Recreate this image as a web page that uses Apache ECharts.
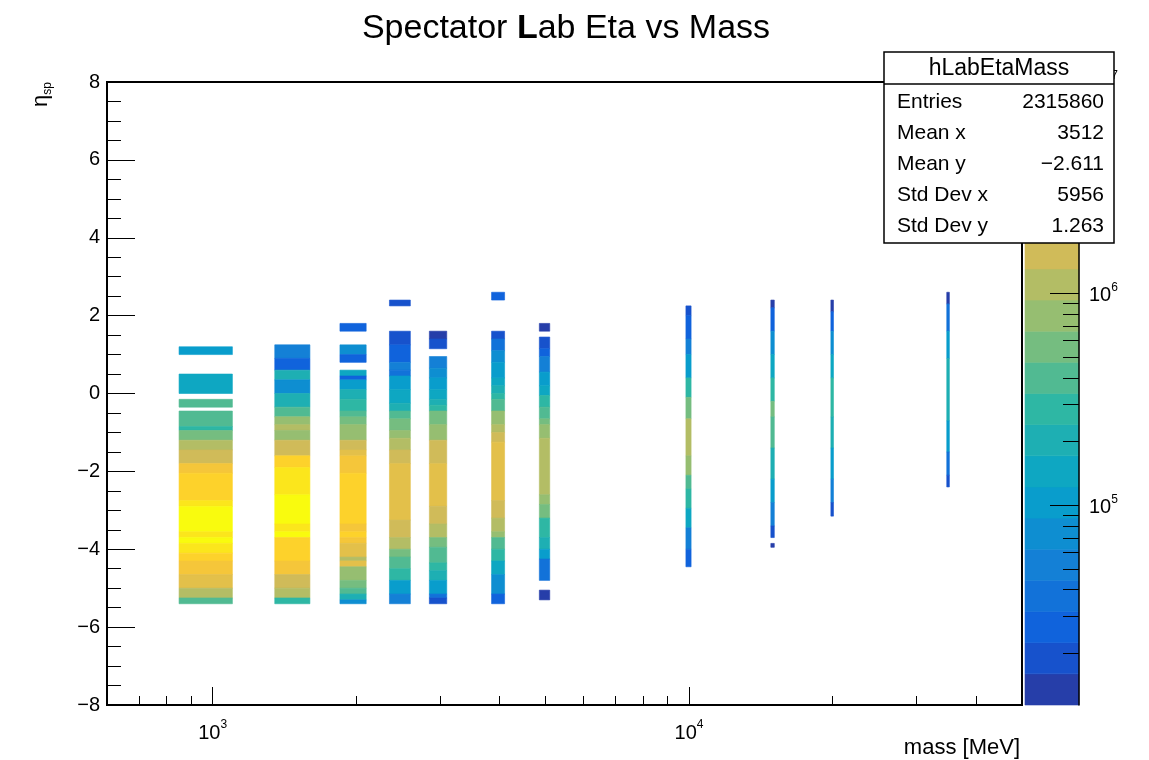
<!DOCTYPE html>
<html><head><meta charset="utf-8">
<script src="https://cdn.jsdelivr.net/npm/echarts@6/dist/echarts.min.js"></script>
<style>html,body{margin:0;padding:0;background:#fff}#c{width:1149px;height:760px}</style>
</head><body><div id="c"></div>
<script>
// ---- data ----
const massLow = [850, 1350, 1850, 2350, 2850, 3850, 4850, 9850, 14850, 19850, 34850];
const massBinWidth = 250;

const eta1000 = [1.2, 1.0, 0.5, 0.0, -0.15, -0.35, -0.45, -0.85, -0.95, -1.2, -1.45, -1.8, -2.05, -2.75, -2.9, -3.55, -3.7, -3.85, -4.1, -4.3, -4.65, -5.0, -5.25, -5.4];
const cnt1000 = [1.04e5, null, 1.45e5, null, 4.0e5, null, 4.0e5, 2.85e5, 5.6e5, 1.1e6, 1.55e6, 3.05e6, 4.3e6, 6.0e6, 8.4e6, 6.0e6, 8.4e6, 6.0e6, 4.3e6, 3.05e6, 2.2e6, 1.1e6, 4.0e5];

const eta1500 = [1.25, 0.9, 0.6, 0.35, 0.0, -0.35, -0.6, -0.8, -0.95, -1.2, -1.6, -1.9, -2.6, -3.35, -3.55, -3.7, -4.3, -4.65, -5.0, -5.25, -5.4];
const cnt1500 = [5.3e4, 2.7e4, 2.05e5, 7.4e4, 2.05e5, 4.0e5, 7.9e5, 1.1e6, 7.9e5, 1.55e6, 4.3e6, 6.0e6, 8.4e6, 6.0e6, 8.4e6, 4.3e6, 3.05e6, 1.55e6, 1.1e6, 2.85e5];

const eta2000 = [1.8, 1.6, 1.25, 1.0, 0.8, 0.6, 0.45, 0.35, 0.1, -0.15, -0.45, -0.6, -0.8, -1.2, -1.45, -1.6, -2.05, -3.35, -3.55, -3.7, -3.85, -4.2, -4.3, -4.45, -4.8, -5.0, -5.15, -5.3, -5.4];
const cnt2000 = [2.7e4, null, 7.4e4, 2.7e4, null, 1.45e5, 2.7e4, 1.04e5, 2.05e5, 2.85e5, 4.0e5, 5.6e5, 7.9e5, 1.55e6, 2.2e6, 3.05e6, 4.3e6, 3.05e6, 4.3e6, 3.05e6, 2.2e6, 1.1e6, 2.2e6, 7.9e5, 5.6e5, 4.0e5, 2.05e5, 7.4e4];

const eta2500 = [2.4, 2.25, 1.6, 1.25, 0.8, 0.6, 0.45, 0.1, -0.25, -0.45, -0.65, -0.95, -1.15, -1.45, -1.8, -3.25, -3.7, -4.0, -4.2, -4.5, -4.8, -5.15, -5.4];
const cnt2500 = [1.9e4, null, 1.9e4, 2.7e4, 5.3e4, 3.8e4, 1.04e5, 1.45e5, 2.05e5, 4.0e5, 5.6e5, 7.9e5, 1.1e6, 1.55e6, 2.2e6, 1.55e6, 1.1e6, 5.6e5, 4.0e5, 2.85e5, 1.04e5, 5.3e4];

const eta3000 = [1.6, 1.4, 1.15, 0.95, 0.65, 0.4, 0.1, -0.15, -0.3, -0.45, -0.8, -1.2, -1.8, -2.9, -3.35, -3.7, -3.95, -4.35, -4.55, -4.8, -5.15, -5.25, -5.4];
const cnt3000 = [1.35e4, 1.9e4, null, 5.3e4, 7.4e4, 1.04e5, 1.45e5, 2.05e5, 2.85e5, 5.6e5, 7.9e5, 1.55e6, 2.2e6, 1.55e6, 1.1e6, 5.6e5, 4.0e5, 2.85e5, 2.05e5, 1.04e5, 3.8e4, 1.9e4];

const eta4000 = [2.6, 2.4, 1.6, 1.4, 1.1, 0.8, 0.4, 0.2, 0.0, -0.15, -0.45, -0.8, -1.0, -1.25, -2.75, -3.2, -3.55, -3.7, -4.0, -4.3, -4.65, -5.15, -5.4];
const cnt4000 = [2.7e4, null, 1.9e4, 3.8e4, 7.4e4, 1.04e5, 1.45e5, 2.05e5, 2.85e5, 4.0e5, 7.9e5, 1.1e6, 1.55e6, 2.2e6, 1.55e6, 1.1e6, 7.9e5, 4.0e5, 2.85e5, 1.45e5, 7.4e4, 2.7e4];

const eta5000 = [1.8, 1.6, 1.45, 1.15, 0.95, 0.55, 0.2, -0.05, -0.35, -0.65, -0.8, -1.15, -2.6, -2.85, -3.2, -3.7, -4.0, -4.25, -4.8, -5.05, -5.3];
const cnt5000 = [1.35e4, null, 1.9e4, 2.7e4, 5.3e4, 1.04e5, 1.45e5, 2.85e5, 4.0e5, 5.6e5, 7.9e5, 1.1e6, 7.9e5, 5.6e5, 2.85e5, 2.05e5, 1.04e5, 3.8e4, null, 1.35e4];

const eta10000 = [2.25, 2.0, 1.4, 1.0, 0.4, -0.1, -0.65, -1.6, -2.1, -2.45, -2.95, -3.45, -4.0, -4.45];
const cnt10000 = [1.9e4, 2.7e4, 5.3e4, 1.04e5, 2.85e5, 5.6e5, 1.1e6, 7.9e5, 4.0e5, 2.85e5, 1.45e5, 5.3e4, 2.7e4];

const eta15000 = [2.4, 2.2, 1.6, 1.0, 0.4, -0.2, -0.6, -1.4, -2.2, -2.8, -3.4, -3.7, -3.85, -3.95];
const cnt15000 = [1.35e4, 2.7e4, 7.4e4, 1.45e5, 2.85e5, 5.6e5, 4.0e5, 2.05e5, 1.04e5, 5.3e4, 1.9e4, null, 1.35e4];

const eta20000 = [2.4, 2.1, 1.6, 1.0, 0.4, -0.6, -1.4, -2.2, -2.8, -3.15];
const cnt20000 = [1.35e4, 2.7e4, 7.4e4, 1.45e5, 2.85e5, 2.05e5, 1.04e5, 5.3e4, 1.9e4];

const eta35000 = [2.6, 2.3, 1.6, 0.9, -0.7, -1.5, -2.1, -2.4];
const cnt35000 = [1.35e4, 3.8e4, 1.04e5, 2.05e5, 1.04e5, 3.8e4, 1.9e4];

const xMajorTicks = [1000, 10000];
const xMinorTicks = [700, 800, 900, 2000, 3000, 4000, 5000, 6000, 7000, 8000, 9000, 20000, 30000, 40000];
const yRange = [-8, 8];
const xRange = [600, 50000];
const zRange = [11400, 1e7];
const zMajorTicks = [1e5, 1e6, 1e7];
const zMinorTicks = [2e4, 3e4, 4e4, 5e4, 6e4, 7e4, 8e4, 9e4, 2e5, 3e5, 4e5, 5e5, 6e5, 7e5, 8e5, 9e5, 2e6, 3e6, 4e6, 5e6, 6e6, 7e6, 8e6, 9e6];
const nLevels = 20;

const statNames = ['Entries', 'Mean x', 'Mean y', 'Std Dev x', 'Std Dev y'];
const statValues = ['2315860', '3512', '\u22122.611', '5956', '1.263'];
const histName = 'hLabEtaMass';

// ---- build ----
const FONT = 'Liberation Sans, Arial, Helvetica, sans-serif';
const columns = [[eta1000, cnt1000], [eta1500, cnt1500], [eta2000, cnt2000], [eta2500, cnt2500], [eta3000, cnt3000],
  [eta4000, cnt4000], [eta5000, cnt5000], [eta10000, cnt10000], [eta15000, cnt15000], [eta20000, cnt20000], [eta35000, cnt35000]];
const cells = [];
columns.forEach(function (col, i) {
  const edges = col[0], counts = col[1];
  for (let j = 0; j < counts.length; j++) {
    if (counts[j] == null) continue;
    cells.push([massLow[i], massLow[i] + massBinWidth, edges[j + 1], edges[j], counts[j]]);
  }
});

// ROOT kBird palette
const bS = [0, .125, .25, .375, .5, .625, .75, .875, 1];
const bR = [0.2082, 0.0592, 0.0780, 0.0232, 0.1802, 0.5301, 0.8186, 0.9956, 0.9764];
const bG = [0.1664, 0.3599, 0.5041, 0.6419, 0.7178, 0.7492, 0.7328, 0.7862, 0.9832];
const bB = [0.5293, 0.8684, 0.8385, 0.7914, 0.6425, 0.4662, 0.3499, 0.1968, 0.0539];
function bird(f) {
  f = Math.max(0, Math.min(1, f));
  let k = 0;
  while (k < bS.length - 2 && f > bS[k + 1]) k++;
  const t = (f - bS[k]) / (bS[k + 1] - bS[k]);
  const c = function (a) { return Math.round(255 * (a[k] + t * (a[k + 1] - a[k]))); };
  return 'rgb(' + c(bR) + ',' + c(bG) + ',' + c(bB) + ')';
}
const L0 = Math.log10(zRange[0]), L1 = Math.log10(zRange[1]);
const step = (L1 - L0) / nLevels;
const pieces = [];
const barData = [];
for (let k = 0; k < nLevels; k++) {
  const lo = Math.pow(10, L0 + k * step), hi = Math.pow(10, L0 + (k + 1) * step);
  const p = { gte: k === 0 ? 0 : lo, color: bird((k + 0.99) / nLevels) };
  if (k < nLevels - 1) p.lt = hi; else p.lte = 1e12;
  pieces.push(p);
  barData.push([0, 1, lo, hi, Math.sqrt(lo * hi)]);
}

function renderCell(params, api) {
  const a = api.coord([api.value(0), api.value(3)]);
  const b = api.coord([api.value(1), api.value(2)]);
  let w = b[0] - a[0], x = a[0];
  if (w < 2.6) { x -= (2.6 - w) / 2; w = 2.6; }
  const col = api.visual('color');
  return { type: 'rect', shape: { x: x, y: a[1], width: w, height: b[1] - a[1] },
    style: { fill: col, stroke: col, lineWidth: 0.6 } };
}
const powFmt = function (v) { return '{b|10}{s|' + Math.round(Math.log10(v)) + '}'; };
const powRich = { b: { fontSize: 20, lineHeight: 24, fontFamily: FONT, color: '#000', verticalAlign: 'bottom' },
                  s: { fontSize: 12, lineHeight: 13, fontFamily: FONT, color: '#000', verticalAlign: 'top' } };
const tickStyle = { color: '#000', width: 1 };

const GX = 107, GY = 82, GW = 915, GH = 623;
const chart = echarts.init(document.getElementById('c'), null, { renderer: 'canvas' });
const statGraphics = [
  { type: 'rect', shape: { x: 884, y: 52, width: 230, height: 191 }, style: { fill: '#fff', stroke: '#000', lineWidth: 1.5 }, z: 100 },
  { type: 'line', shape: { x1: 884, y1: 84, x2: 1114, y2: 84 }, style: { stroke: '#000', lineWidth: 1.5 }, z: 101 },
  { type: 'text', x: 999, y: 69, style: { text: histName, fontSize: 23, fontFamily: FONT, fill: '#000', align: 'center', verticalAlign: 'middle' }, z: 101 }
];
statNames.forEach(function (n, i) {
  const y = 102 + i * 31;
  statGraphics.push({ type: 'text', x: 897, y: y, style: { text: n, fontSize: 21, fontFamily: FONT, fill: '#000', align: 'left', verticalAlign: 'middle' }, z: 101 });
  statGraphics.push({ type: 'text', x: 1104, y: y, style: { text: statValues[i], fontSize: 21, fontFamily: FONT, fill: '#000', align: 'right', verticalAlign: 'middle' }, z: 101 });
});

chart.setOption({
  animation: false,
  backgroundColor: '#fff',
  grid: [
    { left: GX, top: GY, width: GW, height: GH, show: true, borderColor: '#000', borderWidth: 2, backgroundColor: 'transparent' },
    { left: 1025, top: GY, width: 54, height: GH, show: false }
  ],
  visualMap: { type: 'piecewise', show: false, dimension: 4, seriesIndex: [0, 1], pieces: pieces },
  xAxis: [
    { type: 'log', gridIndex: 0, min: xRange[0], max: xRange[1], position: 'bottom', z: 10,
      axisLine: { show: true, onZero: false, lineStyle: { color: '#000', width: 2 } },
      axisTick: { show: true, inside: true, length: 18, customValues: xMajorTicks, lineStyle: tickStyle },
      axisLabel: { show: true, customValues: xMajorTicks, formatter: powFmt, rich: powRich, margin: 14 },
      splitLine: { show: false }, minorTick: { show: false } },
    { type: 'log', gridIndex: 0, min: xRange[0], max: xRange[1], position: 'bottom', offset: 0, z: 10,
      axisLine: { show: false, onZero: false },
      axisTick: { show: true, inside: true, length: 9, customValues: xMinorTicks, lineStyle: tickStyle },
      axisLabel: { show: false }, splitLine: { show: false } },
    { type: 'value', gridIndex: 1, min: 0, max: 1, show: false, axisLine: { onZero: false } }
  ],
  yAxis: [
    { type: 'value', gridIndex: 0, min: yRange[0], max: yRange[1], interval: 2, z: 10,
      axisLine: { show: true, onZero: false, lineStyle: { color: '#000', width: 2 } },
      axisTick: { show: true, inside: true, length: 28, lineStyle: tickStyle },
      minorTick: { show: true, splitNumber: 4, length: 14, lineStyle: tickStyle },
      axisLabel: { fontSize: 20, fontFamily: FONT, color: '#000', margin: 7,
        formatter: function (v) { return String(v).replace('-', '\u2212'); } },
      splitLine: { show: false } },
    { type: 'log', gridIndex: 1, min: zRange[0], max: zRange[1], position: 'right', z: 10,
      axisLine: { show: true, onZero: false, lineStyle: { color: '#000', width: 1.5 } },
      axisTick: { show: true, inside: true, length: 29, customValues: zMajorTicks, lineStyle: tickStyle },
      axisLabel: { show: true, customValues: zMajorTicks, formatter: powFmt, rich: powRich, margin: 10 },
      splitLine: { show: false } },
    { type: 'log', gridIndex: 1, min: zRange[0], max: zRange[1], position: 'right', offset: 0, z: 10,
      axisLine: { show: false, onZero: false },
      axisTick: { show: true, inside: true, length: 16, customValues: zMinorTicks, lineStyle: tickStyle },
      axisLabel: { show: false }, splitLine: { show: false } }
  ],
  series: [
    { type: 'custom', xAxisIndex: 0, yAxisIndex: 0, data: cells, encode: { x: [0, 1], y: [2, 3] }, renderItem: renderCell, silent: true, z: 2 },
    { type: 'custom', xAxisIndex: 2, yAxisIndex: 1, data: barData, encode: { x: [0, 1], y: [2, 3] }, renderItem: renderCell, silent: true, z: 2 }
  ],
  graphic: [
    { type: 'text', x: 566, y: 29, style: { text: 'Spectator {b|L}ab Eta vs Mass', fontSize: 34, fontFamily: FONT, fill: '#000', align: 'center', verticalAlign: 'middle',
        rich: { b: { fontSize: 34, fontFamily: FONT, fontWeight: 'bold', fill: '#000' } } }, z: 50 },
    { type: 'text', x: 42, y: 82, rotation: Math.PI / 2,
      style: { text: '{e|\u03b7}{s|sp}', align: 'right', verticalAlign: 'middle',
        rich: { e: { fontSize: 22, fontFamily: FONT, fill: '#000', lineHeight: 24, verticalAlign: 'top' },
                s: { fontSize: 12, fontFamily: FONT, fill: '#000', lineHeight: 12, verticalAlign: 'bottom' } } }, z: 50 },
    { type: 'text', x: 1020, y: 748, style: { text: 'mass [MeV]', fontSize: 22, fontFamily: FONT, fill: '#000', align: 'right', verticalAlign: 'middle' }, z: 50 }
  ].concat(statGraphics)
});
</script></body></html>
